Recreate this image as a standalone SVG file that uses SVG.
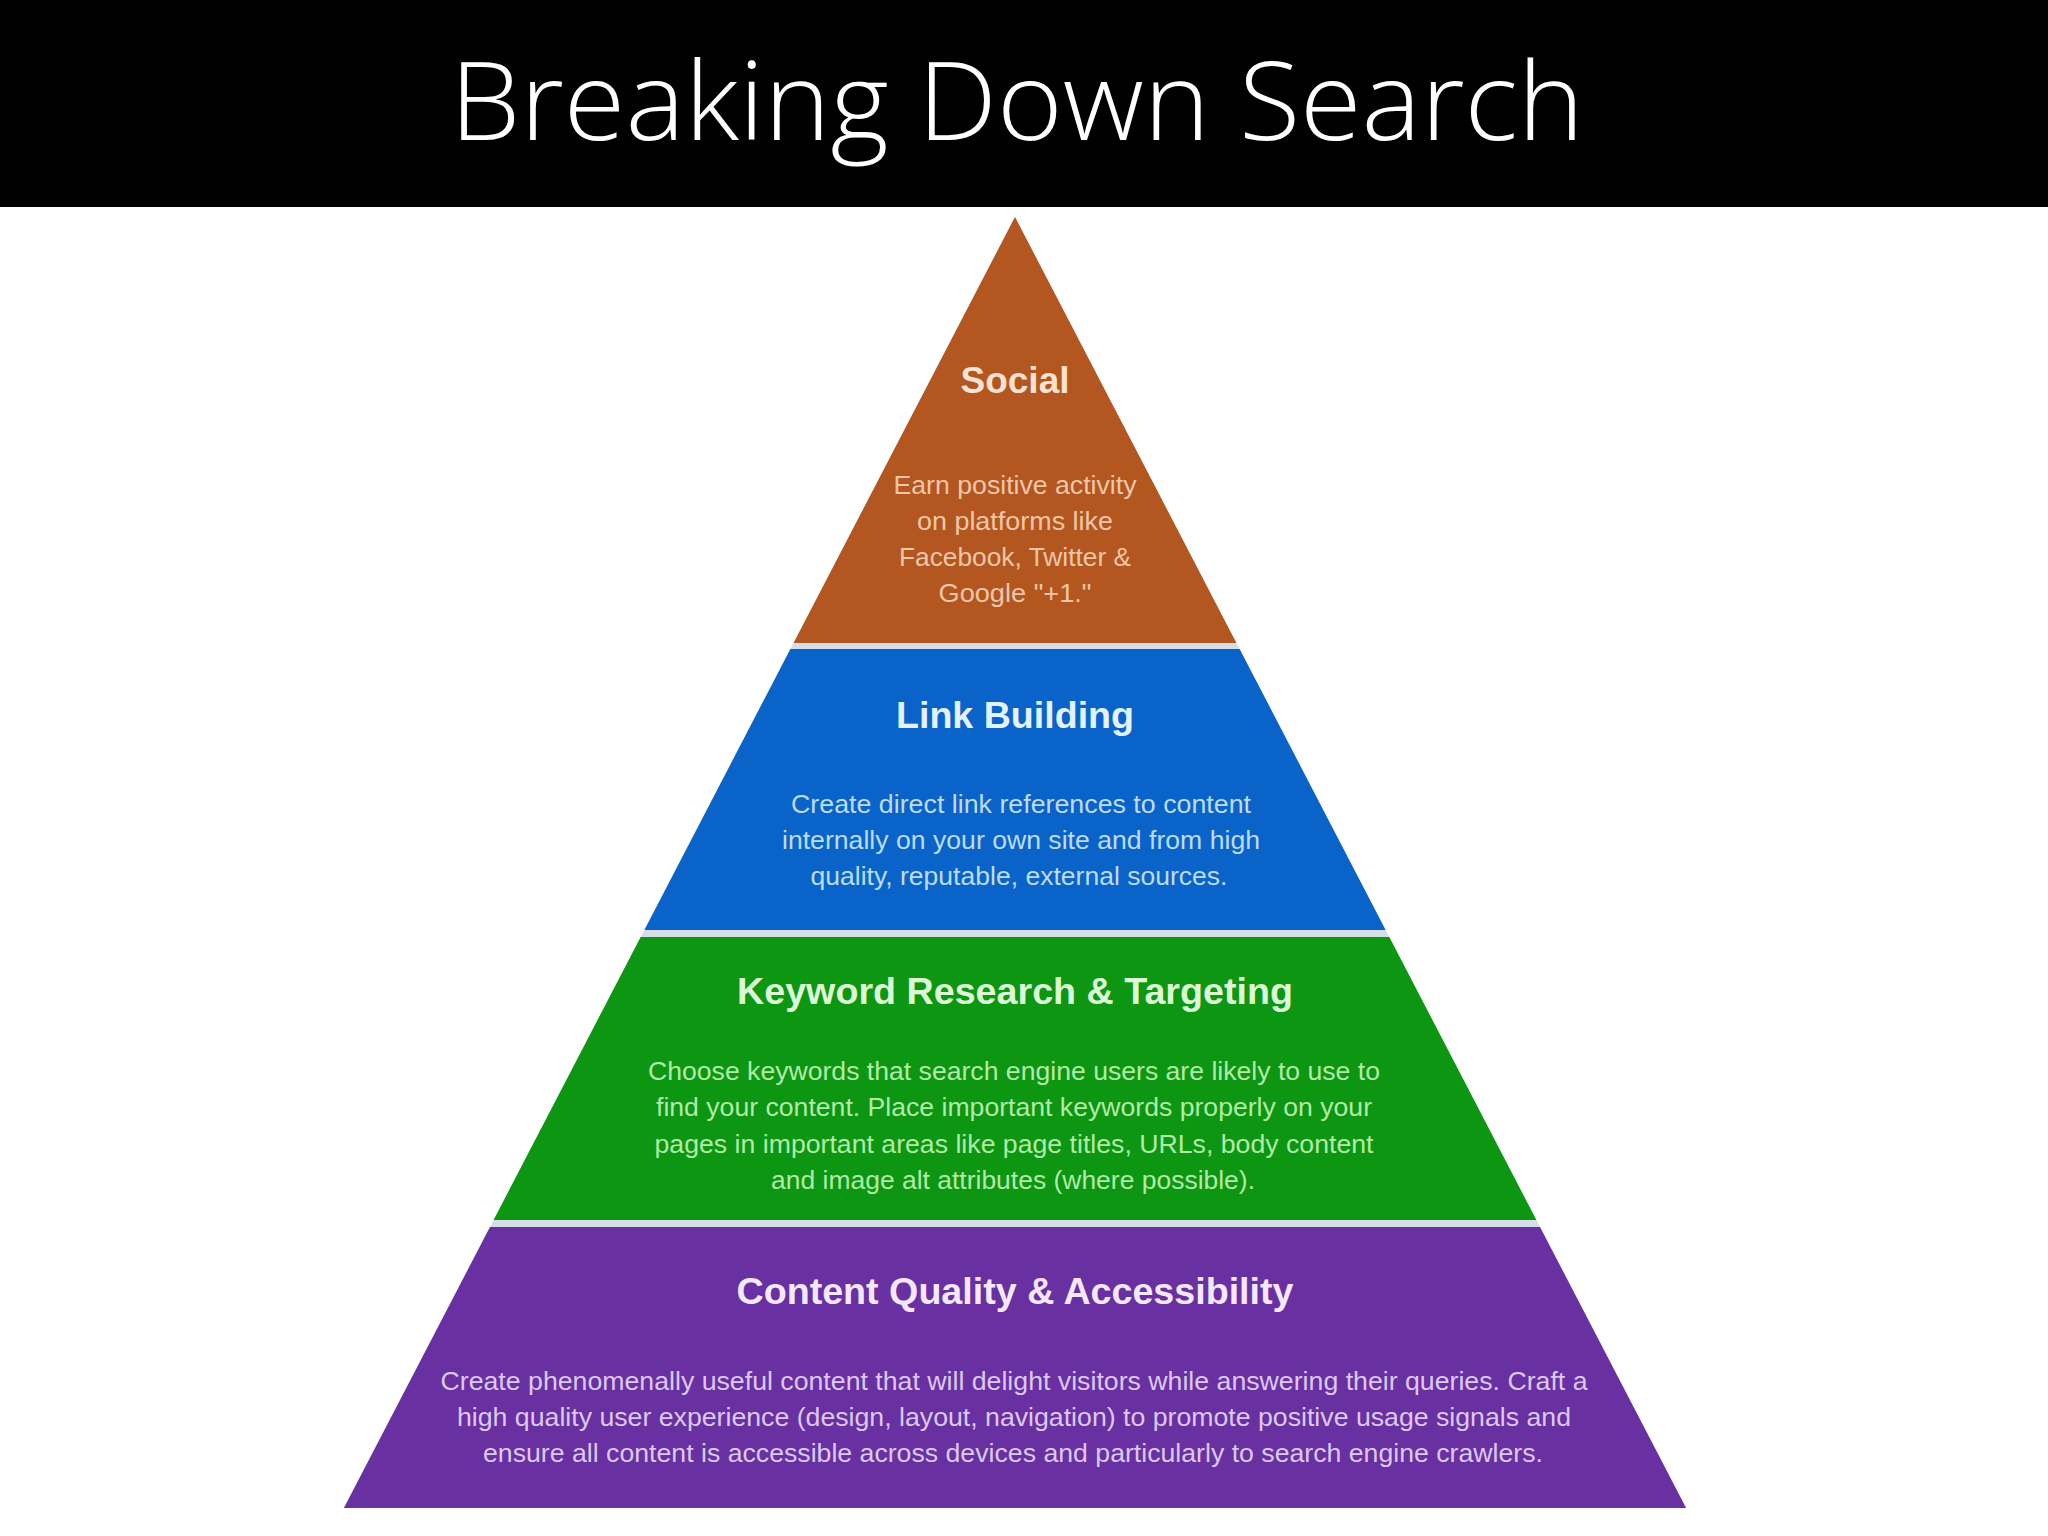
<svg xmlns="http://www.w3.org/2000/svg" width="2048" height="1536" viewBox="0 0 2048 1536">
  <style>
    .title { font-family: "Open Sans", "Liberation Sans", sans-serif; font-weight: 300; font-size: 108px; fill: #ffffff; }
    .head { font-family: "Liberation Sans", Arial, sans-serif; font-weight: bold; font-size: 37px; text-anchor: middle; }
    .body { font-family: "Liberation Sans", Arial, sans-serif; font-size: 26px; text-anchor: middle; }
    .social-h { fill: #f8e2d2; }
    .social-b { fill: #f0c6a8; }
    .link-h { fill: #e4f2ff; }
    .link-b { fill: #bcdcfa; }
    .kw-h { fill: #dcf8d6; }
    .kw-b { fill: #b2eaa8; }
    .cq-h { fill: #f4e8ff; }
    .cq-b { fill: #dcc8f2; }
  </style>
  <rect x="0" y="0" width="2048" height="1536" fill="#ffffff"/>
  <g id="header">
    <rect x="0" y="0" width="2048" height="207" fill="#000000"/>
    <text class="title" x="450" y="140" textLength="1134" lengthAdjust="spacingAndGlyphs">Breaking Down Search</text>
  </g>
  <polygon points="1015,217 1686.1,1508 343.9,1508" fill="#d3dee6"/>
  <g id="social">
    <polygon points="1015,217 1236.4,643 793.6,643" fill="#b4561f"/>
    <text class="head social-h" x="1015" y="393">Social</text>
    <text class="body social-b" x="1015" y="494" textLength="243" lengthAdjust="spacingAndGlyphs">Earn positive activity</text>
    <text class="body social-b" x="1015" y="530" textLength="196" lengthAdjust="spacingAndGlyphs">on platforms like</text>
    <text class="body social-b" x="1015" y="566" textLength="232" lengthAdjust="spacingAndGlyphs">Facebook, Twitter &amp;</text>
    <text class="body social-b" x="1015" y="602" textLength="153" lengthAdjust="spacingAndGlyphs">Google "+1."</text>
  </g>
  <g id="link-building">
    <polygon points="790.4,649 1239.6,649 1385.6,930 644.4,930" fill="#0a63c8"/>
    <text class="head link-h" x="1015" y="728" textLength="238" lengthAdjust="spacingAndGlyphs">Link Building</text>
    <text class="body link-b" x="1021" y="813" textLength="460" lengthAdjust="spacingAndGlyphs">Create direct link references to content</text>
    <text class="body link-b" x="1021" y="849" textLength="478" lengthAdjust="spacingAndGlyphs">internally on your own site and from high</text>
    <text class="body link-b" x="1019" y="885" textLength="417" lengthAdjust="spacingAndGlyphs">quality, reputable, external sources.</text>
  </g>
  <g id="keyword-research">
    <polygon points="640.7,937 1389.3,937 1536.4,1220 493.6,1220" fill="#0c9612"/>
    <text class="head kw-h" x="1015" y="1004" textLength="556" lengthAdjust="spacingAndGlyphs">Keyword Research &amp; Targeting</text>
    <text class="body kw-b" x="1014" y="1080" textLength="732" lengthAdjust="spacingAndGlyphs">Choose keywords that search engine users are likely to use to</text>
    <text class="body kw-b" x="1014" y="1116" textLength="716" lengthAdjust="spacingAndGlyphs">find your content. Place important keywords properly on your</text>
    <text class="body kw-b" x="1014" y="1153" textLength="719" lengthAdjust="spacingAndGlyphs">pages in important areas like page titles, URLs, body content</text>
    <text class="body kw-b" x="1013" y="1189" textLength="484" lengthAdjust="spacingAndGlyphs">and image alt attributes (where possible).</text>
  </g>
  <g id="content-quality">
    <polygon points="490,1227 1540,1227 1686.1,1508 343.9,1508" fill="#6830a0"/>
    <text class="head cq-h" x="1015" y="1304" textLength="557" lengthAdjust="spacingAndGlyphs">Content Quality &amp; Accessibility</text>
    <text class="body cq-b" x="1014" y="1390" textLength="1147" lengthAdjust="spacingAndGlyphs">Create phenomenally useful content that will delight visitors while answering their queries. Craft a</text>
    <text class="body cq-b" x="1014" y="1426" textLength="1114" lengthAdjust="spacingAndGlyphs">high quality user experience (design, layout, navigation) to promote positive usage signals and</text>
    <text class="body cq-b" x="1013" y="1462" textLength="1060" lengthAdjust="spacingAndGlyphs">ensure all content is accessible across devices and particularly to search engine crawlers.</text>
  </g>
</svg>
